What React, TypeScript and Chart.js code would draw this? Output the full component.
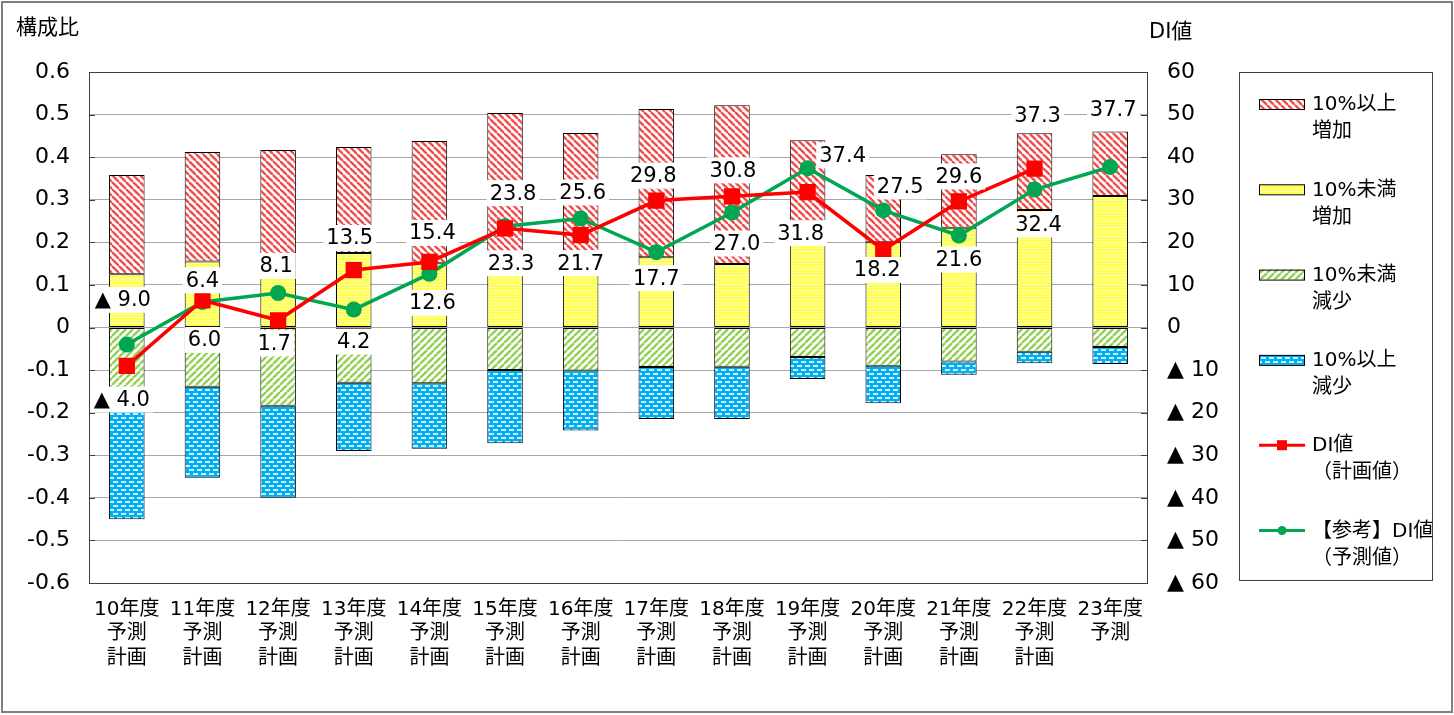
import React, { useEffect, useRef } from 'react';
import { Chart, registerables } from 'chart.js';
Chart.register(...registerables);

// ---------------- data ----------------
const categories: string[][] = [
  ['10年度', '予測', '計画'],
  ['11年度', '予測', '計画'],
  ['12年度', '予測', '計画'],
  ['13年度', '予測', '計画'],
  ['14年度', '予測', '計画'],
  ['15年度', '予測', '計画'],
  ['16年度', '予測', '計画'],
  ['17年度', '予測', '計画'],
  ['18年度', '予測', '計画'],
  ['19年度', '予測', '計画'],
  ['20年度', '予測', '計画'],
  ['21年度', '予測', '計画'],
  ['22年度', '予測', '計画'],
  ['23年度', '予測'],
];

// 構成比 (stacked segments)
const incOver10 = [0.233, 0.257, 0.301, 0.249, 0.287, 0.354, 0.317, 0.348, 0.373, 0.19, 0.158, 0.173, 0.18, 0.151];
const incUnder10 = [0.125, 0.155, 0.116, 0.175, 0.151, 0.15, 0.14, 0.165, 0.149, 0.25, 0.2, 0.234, 0.276, 0.309];
const decUnder10 = [-0.165, -0.139, -0.184, -0.13, -0.131, -0.1, -0.101, -0.093, -0.092, -0.069, -0.09, -0.08, -0.057, -0.046];
const decOver10 = [-0.285, -0.214, -0.216, -0.16, -0.154, -0.172, -0.141, -0.122, -0.123, -0.052, -0.088, -0.031, -0.027, -0.04];

// DI値
const diPlan: (number | null)[] = [-9.0, 6.4, 1.7, 13.5, 15.4, 23.3, 21.7, 29.8, 30.8, 31.8, 18.2, 29.6, 37.3, null];
const diForecast: number[] = [-4.0, 6.0, 8.1, 4.2, 12.6, 23.8, 25.6, 17.7, 27.0, 37.4, 27.5, 21.6, 32.4, 37.7];

// label placement relative to each point (px)
const planLabelOffset: ([number, number] | null)[] = [
  [-4, -66], [0, -20], [-4, 23], [-4, -32], [3, -29], [6, 35], [0, 28],
  [-3, -25], [1, -26], [-7, 41], [-6, 20], [0, -25], [3, -53], null,
];
const forecastLabelOffset: [number, number][] = [
  [-5, 55], [2, 38], [-2, -27], [0, 32], [3, 29], [8, -33], [2, -26],
  [0, 26], [5, 31], [35, -13], [17, -24], [0, 24], [4, 35], [3, -57],
];

const legendItems: string[][] = [
  ['10%以上', '増加'],
  ['10%未満', '増加'],
  ['10%未満', '減少'],
  ['10%以上', '減少'],
  ['DI値', '（計画値）'],
  ['【参考】DI値', '（予測値）'],
];

const FONT = "'DejaVu Sans', 'Noto Sans CJK JP', sans-serif";
const RED = '#FF0000';
const GREEN = '#00A651';

// ---------------- patterns ----------------
function makeTile(w: number, h: number, draw: (c: CanvasRenderingContext2D) => void): CanvasPattern {
  const cv = document.createElement('canvas');
  cv.width = w;
  cv.height = h;
  const c = cv.getContext('2d')!;
  draw(c);
  const p = document.createElement('canvas').getContext('2d')!.createPattern(cv, 'repeat')!;
  return p;
}

function buildPatterns() {
  const s = 7;
  const red = makeTile(s, s, (c) => {
    c.fillStyle = '#FFFFFF';
    c.fillRect(0, 0, s, s);
    c.strokeStyle = '#F24B4B';
    c.lineWidth = 2.3;
    for (const o of [-s, 0, s]) {
      c.beginPath();
      c.moveTo(o, 0);
      c.lineTo(o + s, s);
      c.stroke();
    }
  });
  const green = makeTile(s, s, (c) => {
    c.fillStyle = '#FFFFFF';
    c.fillRect(0, 0, s, s);
    c.strokeStyle = '#92D050';
    c.lineWidth = 2.3;
    for (const o of [-s, 0, s]) {
      c.beginPath();
      c.moveTo(o, s);
      c.lineTo(o + s, 0);
      c.stroke();
    }
  });
  const yellow = makeTile(4, 3, (c) => {
    c.fillStyle = '#FFFF50';
    c.fillRect(0, 0, 4, 3);
    c.fillStyle = '#FFFFA8';
    c.fillRect(0, 2, 4, 1);
  });
  const blue = makeTile(8, 8, (c) => {
    c.fillStyle = '#00B0F0';
    c.fillRect(0, 0, 8, 8);
    c.fillStyle = '#CFF1FF';
    c.fillRect(1, 1, 5, 2);
    c.fillRect(5, 5, 3, 2);
    c.fillRect(0, 5, 2, 2);
  });
  return { red, green, yellow, blue };
}

function fmtDI(v: number): string {
  return v < 0 ? '▲ ' + Math.abs(v).toFixed(1) : v.toFixed(1);
}

export default function App() {
  const ref = useRef<HTMLCanvasElement | null>(null);

  useEffect(() => {
    const canvas = ref.current;
    if (!canvas) return;
    const pat = buildPatterns();

    const decorPlugin = {
      id: 'decor',
      beforeDraw(chart: any) {
        const ctx = chart.ctx;
        ctx.save();
        ctx.fillStyle = '#FFFFFF';
        ctx.fillRect(0, 0, chart.width, chart.height);
        ctx.restore();
      },
      afterDatasetsDraw(chart: any) {
        const ctx = chart.ctx;
        const area = chart.chartArea;
        ctx.save();
        // plot frame
        ctx.strokeStyle = '#404040';
        ctx.lineWidth = 1;
        ctx.strokeRect(Math.round(area.left) + 0.5, Math.round(area.top) + 0.5, Math.round(area.right - area.left) - 1, Math.round(area.bottom - area.top));
        // inward ticks
        const y = chart.scales.y;
        y.ticks.forEach((t: any) => {
          const py = Math.round(y.getPixelForValue(t.value)) + 0.5;
          ctx.beginPath();
          ctx.moveTo(area.left, py);
          ctx.lineTo(area.left + 6, py);
          ctx.moveTo(area.right - 7, py);
          ctx.lineTo(area.right, py);
          ctx.stroke();
        });

        // data labels
        ctx.font = `21px ${FONT}`;
        ctx.textAlign = 'center';
        ctx.textBaseline = 'middle';
        const drawLabels = (dsIndex: number, values: (number | null)[], offsets: ([number, number] | null)[]) => {
          const meta = chart.getDatasetMeta(dsIndex);
          values.forEach((v, i) => {
            const off = offsets[i];
            if (v === null || v === undefined || !off) return;
            const el = meta.data[i];
            const tx = el.x + off[0];
            const ty = el.y + off[1];
            const text = fmtDI(v);
            const w = ctx.measureText(text).width + 6;
            ctx.fillStyle = '#FFFFFF';
            ctx.fillRect(tx - w / 2, ty - 13, w, 26);
            ctx.fillStyle = '#000000';
            ctx.fillText(text, tx, ty + 1);
          });
        };
        drawLabels(0, diPlan, planLabelOffset);
        drawLabels(1, diForecast, forecastLabelOffset);
        ctx.restore();
      },
      afterDraw(chart: any) {
        const ctx = chart.ctx;
        ctx.save();
        // outer frame
        ctx.strokeStyle = '#7F7F7F';
        ctx.lineWidth = 2;
        ctx.strokeRect(2, 2, 1450, 710);

        // axis titles
        ctx.fillStyle = '#000000';
        ctx.font = `21px ${FONT}`;
        ctx.textAlign = 'left';
        ctx.textBaseline = 'middle';
        ctx.fillText('構成比', 16, 29);
        ctx.fillText('DI値', 1149, 33);

        // legend box
        const lx = 1239, ly = 72, lw = 193, lh = 508;
        ctx.strokeStyle = '#404040';
        ctx.lineWidth = 1;
        ctx.strokeRect(lx + 0.5, ly + 0.5, lw, lh);

        const fills = [pat.red, pat.yellow, pat.green, pat.blue];
        ctx.font = `20px ${FONT}`;
        legendItems.forEach((lines, i) => {
          const cy = 104 + i * 85.3;
          const sx = 1259, ex = 1305;
          if (i < 4) {
            ctx.fillStyle = fills[i];
            ctx.fillRect(sx, cy - 5, ex - sx, 10);
            ctx.strokeStyle = '#000000';
            ctx.lineWidth = 1;
            ctx.strokeRect(sx + 0.5, cy - 5 + 0.5, ex - sx - 1, 10);
          } else {
            const col = i === 4 ? RED : GREEN;
            ctx.strokeStyle = col;
            ctx.lineWidth = 3;
            ctx.beginPath();
            ctx.moveTo(sx, cy);
            ctx.lineTo(ex, cy);
            ctx.stroke();
            ctx.fillStyle = col;
            if (i === 4) {
              ctx.fillRect((sx + ex) / 2 - 5, cy - 5, 10, 10);
            } else {
              ctx.beginPath();
              ctx.arc((sx + ex) / 2, cy, 4.5, 0, Math.PI * 2);
              ctx.fill();
            }
          }
          ctx.fillStyle = '#000000';
          ctx.textAlign = 'left';
          ctx.fillText(lines[0], 1312, cy + 1);
          ctx.fillText(lines[1], 1312, cy + 28);
        });
        ctx.restore();
      },
    };

    const chart = new Chart(canvas, {
      type: 'bar',
      data: {
        labels: categories,
        datasets: [
          {
            type: 'line',
            label: 'DI値（計画値）',
            data: diPlan,
            yAxisID: 'y1',
            borderColor: RED,
            backgroundColor: RED,
            borderWidth: 3.5,
            pointStyle: 'rect',
            pointRadius: 11.5,
            pointBorderWidth: 0,
            pointBackgroundColor: RED,
            order: 0,
          } as any,
          {
            type: 'line',
            label: '【参考】DI値（予測値）',
            data: diForecast,
            yAxisID: 'y1',
            borderColor: GREEN,
            backgroundColor: GREEN,
            borderWidth: 3.5,
            pointStyle: 'circle',
            pointRadius: 8,
            pointBorderWidth: 0,
            pointBackgroundColor: GREEN,
            order: 0,
          } as any,
          {
            label: '10%未満増加',
            data: incUnder10,
            yAxisID: 'y',
            backgroundColor: pat.yellow,
            borderColor: '#000000',
            borderWidth: 1,
            borderSkipped: false,
            order: 1,
          },
          {
            label: '10%以上増加',
            data: incOver10,
            yAxisID: 'y',
            backgroundColor: pat.red,
            borderColor: '#000000',
            borderWidth: 1,
            borderSkipped: false,
            order: 1,
          },
          {
            label: '10%未満減少',
            data: decUnder10,
            yAxisID: 'y',
            backgroundColor: pat.green,
            borderColor: '#000000',
            borderWidth: 1,
            borderSkipped: false,
            order: 1,
          },
          {
            label: '10%以上減少',
            data: decOver10,
            yAxisID: 'y',
            backgroundColor: pat.blue,
            borderColor: '#000000',
            borderWidth: 1,
            borderSkipped: false,
            order: 1,
          },
        ] as any,
      },
      options: {
        responsive: false,
        animation: false,
        devicePixelRatio: 1,
        layout: { padding: { top: 72, right: 226, bottom: 0, left: 0 } },
        datasets: { bar: { barPercentage: 0.47, categoryPercentage: 1 } } as any,
        plugins: {
          legend: { display: false },
          tooltip: { enabled: false },
          title: { display: false },
        },
        scales: {
          x: {
            stacked: true,
            grid: { display: false, drawTicks: false },
            border: { display: false },
            ticks: {
              autoSkip: false,
              maxRotation: 0,
              minRotation: 0,
              padding: 14,
              color: '#000000',
              font: { family: FONT, size: 20, lineHeight: 1.24 },
            },
            afterFit: (s: any) => { s.height = 132; },
          },
          y: {
            stacked: true,
            position: 'left',
            min: -0.6,
            max: 0.6,
            grid: { color: '#A6A6A6', lineWidth: 1, drawTicks: false },
            border: { display: false },
            ticks: {
              stepSize: 0.1,
              padding: 19,
              color: '#000000',
              font: { family: FONT, size: 22 },
              callback: (v: any) => (Math.abs(Number(v)) < 1e-9 ? '0' : Number(v).toFixed(1)),
            },
            afterFit: (s: any) => { s.width = 89; },
          },
          y1: {
            position: 'right',
            min: -60,
            max: 60,
            grid: { display: false, drawTicks: false },
            border: { display: false },
            ticks: {
              stepSize: 10,
              padding: 19,
              color: '#000000',
              font: { family: FONT, size: 22 },
              callback: (v: any) => {
                const n = Math.round(Number(v));
                return n < 0 ? '▲ ' + Math.abs(n) : String(n);
              },
            },
            afterFit: (s: any) => { s.width = 80; },
          },
        },
      } as any,
      plugins: [decorPlugin],
    });

    return () => chart.destroy();
  }, []);

  return (
    <div style={{ position: 'absolute', left: 0, top: 0, width: 1454, height: 715, background: '#fff' }}>
      <canvas ref={ref} width={1454} height={715} style={{ display: 'block', width: 1454, height: 715 }} />
    </div>
  );
}
